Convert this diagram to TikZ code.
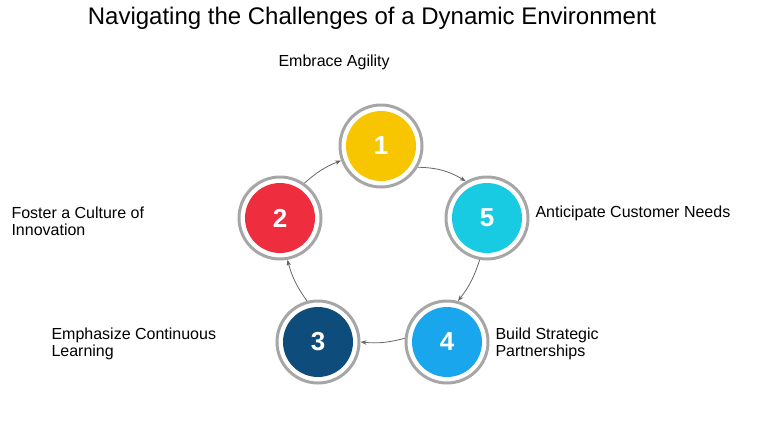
\documentclass[tikz,border=0pt]{standalone}
\usepackage{fontspec}
\setmainfont{Liberation Sans}
\usetikzlibrary{arrows.meta}
\definecolor{cyellow}{HTML}{F7C600}
\definecolor{cred}{HTML}{EE2E3E}
\definecolor{ccyan}{HTML}{18CBE3}
\definecolor{cnavy}{HTML}{0E4C7C}
\definecolor{cblue}{HTML}{19A6EC}
\tikzset{
  stage/.style={circle,minimum size=70pt,inner sep=0pt,text=white,
    font=\fontsize{26}{26}\selectfont\bfseries},
  ring/.style={draw=gray!70,line width=3pt,circle,minimum size=82pt,inner sep=0pt},
  lbl/.style={font=\fontsize{16}{17}\selectfont,align=left},
  flow/.style={->,>={Stealth[length=6pt]},gray!80!black,line width=0.8pt}
}
\begin{document}
\begin{tikzpicture}[x=1pt,y=-1pt]
  \useasboundingbox (0,0) rectangle (768,432);
  \node[font=\fontsize{24}{26}\selectfont] (title) at (372,18) {Navigating the Challenges of a Dynamic Environment};
  %
  \node[ring] (r1) at (381,146) {};
  \node[ring] (r2) at (280,218) {};
  \node[ring] (r5) at (487,218) {};
  \node[ring] (r3) at (318,342) {};
  \node[ring] (r4) at (447,342) {};
  \node[stage,fill=cyellow] (s1) at (r1) {1};
  \node[stage,fill=cred] (s2) at (r2) {2};
  \node[stage,fill=ccyan] (s5) at (r5) {5};
  \node[stage,fill=cnavy] (s3) at (r3) {3};
  \node[stage,fill=cblue] (s4) at (r4) {4};
  %
  \draw[flow] (r1.-30) to[bend left=15] (r5.120);
  \draw[flow] (r5.-100) to[bend left=10] (r4.75);
  \draw[flow] (r4.175) to[bend left=10] (r3.0);
  \draw[flow] (r3.105) to[bend left=10] (r2.-80);
  \draw[flow] (r2.55) to[bend left=10] (r1.200);
  %
  \node[lbl,anchor=west] (l1) at (275,62) {Embrace Agility};
  \node[lbl,anchor=west] (l2) at (8,221) {Foster a Culture of\\Innovation};
  \node[lbl,anchor=west] (l5) at (532,213) {Anticipate Customer Needs};
  \node[lbl,anchor=west] (l3) at (48,344) {Emphasize Continuous\\Learning};
  \node[lbl,anchor=west] (l4) at (492,344) {Build Strategic\\Partnerships};
\end{tikzpicture}
\end{document}
